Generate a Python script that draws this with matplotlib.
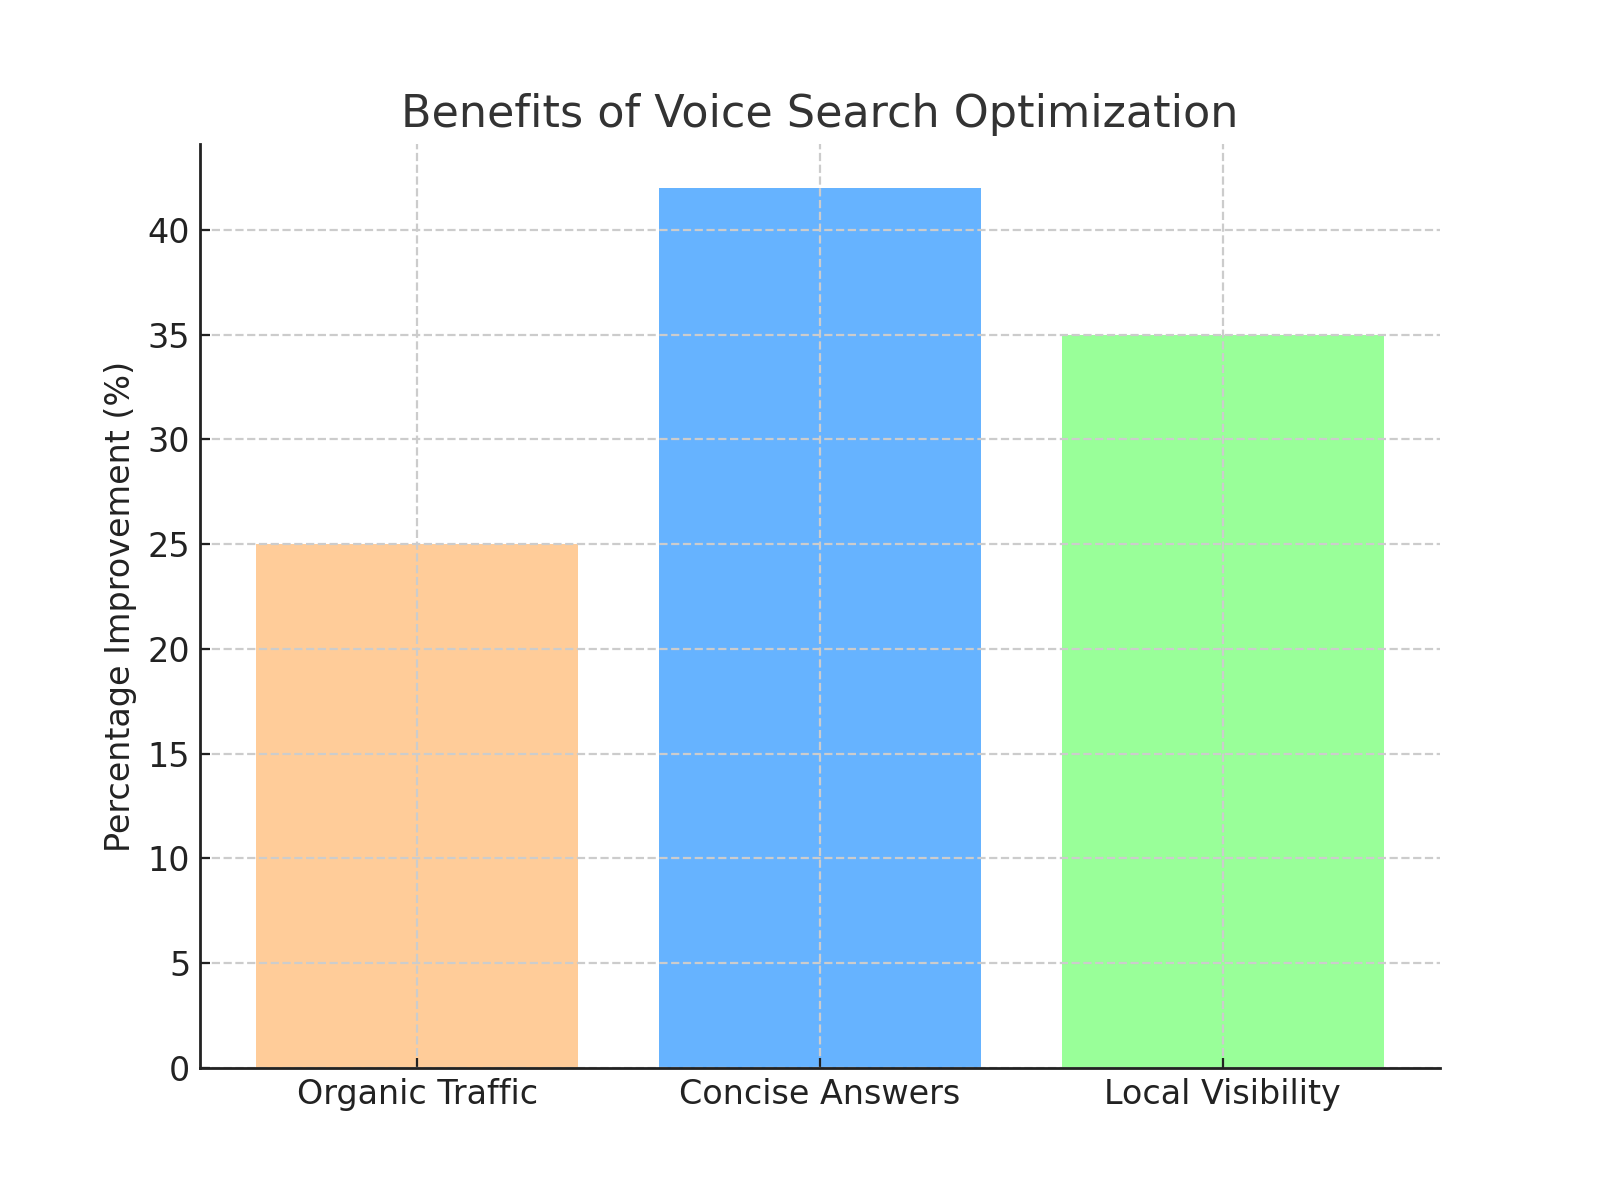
import matplotlib
matplotlib.use("Agg")
import matplotlib.pyplot as plt

categories = ["Organic Traffic", "Concise Answers", "Local Visibility"]
improvement = [25, 42, 35]
bar_colors = ["#ffcc99", "#66b3ff", "#99ff99"]

fig, ax = plt.subplots(figsize=(8, 6), dpi=200)
ax.bar(categories, improvement, color=bar_colors)
ax.set_title("Benefits of Voice Search Optimization", fontsize=16, color="#333333")
ax.set_ylabel("Percentage Improvement (%)", fontsize=12, color="#222222")
ax.grid(True, linestyle="--", color="#cccccc", linewidth=0.8)
ax.spines["top"].set_visible(False)
ax.spines["right"].set_visible(False)
for s in ["left", "bottom"]:
    ax.spines[s].set_linewidth(1.0)
    ax.spines[s].set_color("#222222")
ax.tick_params(direction="in", labelsize=12, colors="#222222")

plt.savefig("out.png")
